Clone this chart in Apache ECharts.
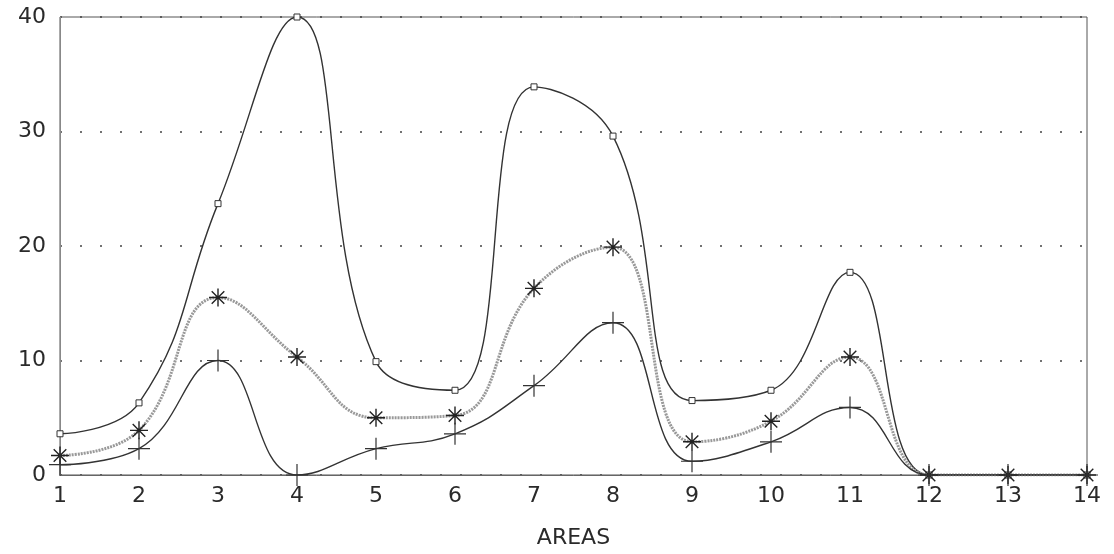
<!DOCTYPE html>
<html lang="en">
<head>
    <meta charset="utf-8">
    <title>Areas</title>
    <script src="https://cdn.jsdelivr.net/npm/echarts@6.0.0/dist/echarts.min.js"></script>
    <style>
        html, body { margin: 0; padding: 0; background: #fff; }
        #main { width: 1114px; height: 554px; }
    </style>
</head>
<body>
<div id="main"></div>
<script type="text/javascript">
    // 数据
    var areas = ['1', '2', '3', '4', '5', '6', '7', '8', '9', '10', '11', '12', '13', '14'];
    var squareSeries = [3.6, 6.3, 23.7, 40, 9.9, 7.4, 33.9, 29.6, 6.5, 7.4, 17.7, 0, 0, 0];
    var starSeries = [1.7, 3.9, 15.5, 10.3, 5.0, 5.2, 16.3, 19.9, 2.9, 4.7, 10.3, 0, 0, 0];
    var plusSeries = [0.9, 2.3, 10.0, 0, 2.3, 3.6, 7.8, 13.3, 1.2, 2.9, 5.9, 0, 0, 0];

    var plusPath = 'path://M0,10L20,10M10,0L10,20';
    var starPath = 'path://M0,10L20,10M10,0L10,20M3,3L17,17M17,3L3,17';

    var myChart = echarts.init(document.getElementById('main'));
    var axisFont = { fontFamily: 'DejaVu Sans', fontSize: 22, color: '#2a2a2a' };

    var option = {
        animation: false,
        backgroundColor: '#fff',
        grid: {
            left: 60, right: 27, top: 17, bottom: 77,
            show: true,
            borderColor: '#555',
            borderWidth: 1
        },
        xAxis: {
            type: 'category',
            data: areas,
            boundaryGap: false,
            name: 'AREAS',
            nameLocation: 'middle',
            nameGap: 52,
            nameTextStyle: axisFont,
            axisLine: { lineStyle: { color: '#666', width: 1 } },
            axisTick: { show: false },
            axisLabel: Object.assign({ margin: 10 }, axisFont),
            splitLine: { show: false }
        },
        yAxis: {
            type: 'value',
            min: 0,
            max: 40,
            interval: 10,
            axisLine: { show: true, lineStyle: { color: '#888', width: 1 } },
            axisTick: { show: false },
            axisLabel: Object.assign({ margin: 14 }, axisFont),
            splitLine: { show: true, lineStyle: { color: '#444', width: 1.5, type: [2, 18] } }
        },
        series: [
            {
                // 方块
                type: 'line',
                data: squareSeries,
                smooth: 0.45,
                symbol: 'rect',
                symbolSize: 6,
                lineStyle: { color: '#333', width: 1.4 },
                itemStyle: { color: '#fff', borderColor: '#333', borderWidth: 1 }
            },
            {
                // 星号
                type: 'line',
                data: starSeries,
                smooth: 0.45,
                symbol: starPath,
                symbolSize: 18,
                lineStyle: { color: '#999', width: 3, type: [2, 1] },
                itemStyle: { color: 'none', borderColor: '#222', borderWidth: 1.4 }
            },
            {
                // 十字
                type: 'line',
                data: plusSeries,
                smooth: 0.45,
                symbol: plusPath,
                symbolSize: 22,
                lineStyle: { color: '#333', width: 1.4 },
                itemStyle: { color: 'none', borderColor: '#333', borderWidth: 1.2 }
            }
        ]
    };
    myChart.setOption(option);
</script>
</body>
</html>
